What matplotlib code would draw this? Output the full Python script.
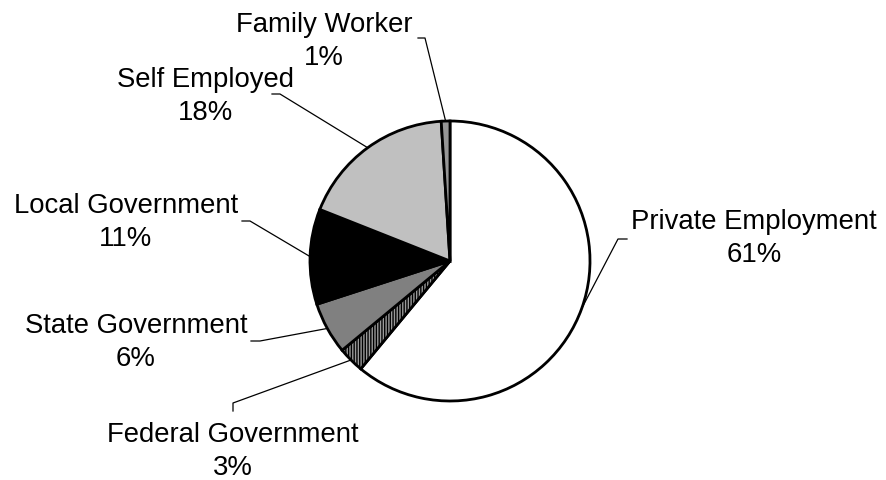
import matplotlib.pyplot as plt
import numpy as np

plt.rcParams['font.family'] = ['Liberation Sans', 'DejaVu Sans']

categories = ['Private Employment', 'Federal Government', 'State Government',
              'Local Government', 'Self Employed', 'Family Worker']
shares = [61, 3, 6, 11, 18, 1]
colors = ['white', '#9a9a9a', '#808080', 'black', '#c0c0c0', '#969696']
hatches = [None, '||||||', None, None, None, None]

W, H = 887, 481
fig = plt.figure(figsize=(W / 100, H / 100), dpi=100)
ax = fig.add_axes([0, 0, 1, 1])

cx, cy, r = 450, H - 262, 140
wedges, _ = ax.pie(shares, colors=colors, startangle=90, counterclock=False,
                   center=(cx, cy), radius=r, frame=True,
                   wedgeprops=dict(edgecolor='black', linewidth=2))
for w, h in zip(wedges, hatches):
    if h:
        w.set_hatch(h)
ax.set_xlim(0, W)
ax.set_ylim(0, H)
ax.set_aspect('equal')
ax.set_axis_off()

# label centre x, first baseline y, elbow start, elbow end (pixels from top)
label_pos = {
    'Private Employment': ((754, 229), (627, 240), (618, 240)),
    'Federal Government': ((233, 442), (233, 412), (233, 404)),
    'State Government': ((136, 333), (251, 342), (260, 342)),
    'Local Government': ((126, 213), (242, 222), (250, 222)),
    'Self Employed': ((206, 87), (272, 95), (280, 95)),
    'Family Worker': ((324, 32), (418, 39), (425, 39)),
}

for w, name, val in zip(wedges, categories, shares):
    (tx, ty), (x1, y1), (x2, y2) = label_pos[name]
    ax.text(tx, H - ty, name, ha='center', va='baseline', fontsize=19.8)
    ax.text(tx, H - ty - 33, f'{val}%', ha='center', va='baseline',
            fontsize=19.8)
    mid = np.deg2rad((w.theta1 + w.theta2) / 2)
    ex, ey = cx + r * np.cos(mid), cy + r * np.sin(mid)
    ax.plot([x1, x2, ex], [H - y1, H - y2, ey], color='black', lw=0.9,
            zorder=0.5)

fig.savefig('out.png', dpi=100)
